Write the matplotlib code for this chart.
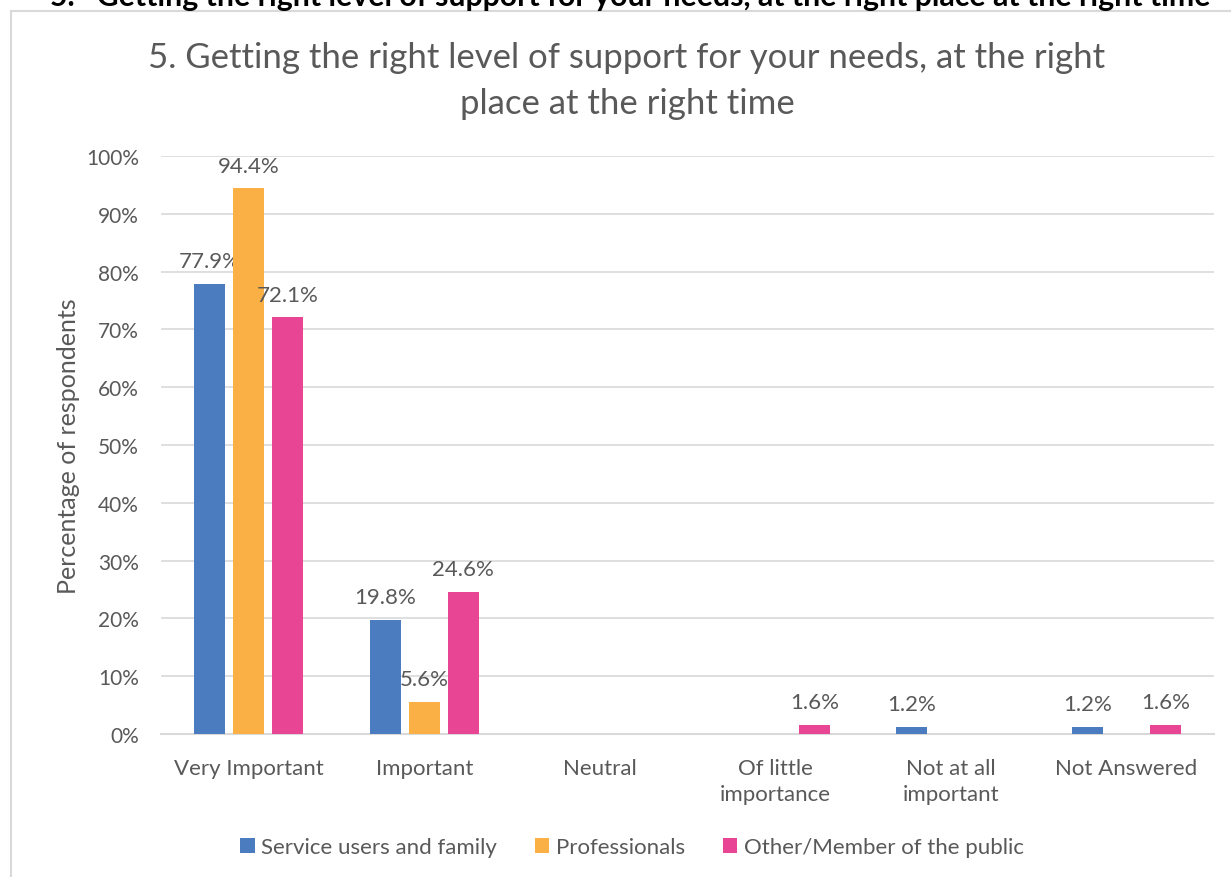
import numpy as np
import matplotlib.pyplot as plt
from matplotlib.patches import Rectangle

plt.rcParams['font.family'] = ['Lato', 'DejaVu Sans']

categories = ['Very Important', 'Important', 'Neutral', 'Of little\nimportance',
              'Not at all\nimportant', 'Not Answered']
series_names = ['Service users and family', 'Professionals', 'Other/Member of the public']
service_users = [77.9, 19.8, 0.0, 0.0, 1.2, 1.2]
professionals = [94.4, 5.6, 0.0, 0.0, 0.0, 0.0]
other_public = [72.1, 24.6, 0.0, 1.6, 0.0, 1.6]
yticks = [0, 10, 20, 30, 40, 50, 60, 70, 80, 90, 100]

colors = ['#4a7cbf', '#fbb045', '#e84595']
grey = '#595959'

fig = plt.figure(figsize=(12.31, 8.78), dpi=100)
ax = fig.add_axes([161 / 1231, 1 - 735 / 878, (1214 - 161) / 1231, (735 - 157) / 878])

# chart frame and the heading above it
fig.patches.append(Rectangle((11 / 1231, -0.1), 1.2, 1 - 12 / 878 + 0.1, transform=fig.transFigure,
                             fill=False, edgecolor='#d9d9d9', linewidth=1.5))
fig.text(50 / 1231, 1 - 6 / 878, '5.   Getting the right level of support for your needs, at the right place at the right time',
         fontsize=21.8, fontweight='bold', color='black', va='baseline', ha='left')

x = np.arange(len(categories))
width = 0.177
step = 0.222
for i, (vals, name) in enumerate(zip([service_users, professionals, other_public], series_names)):
    pos = x + (i - 1) * step
    bars = ax.bar(pos, vals, width, color=colors[i], label=name, zorder=3)
    for p, v in zip(pos, vals):
        if v > 0:
            ax.text(p, v + 2.2, f'{v:.1f}%', ha='center', va='bottom', fontsize=16, color=grey)

ax.set_xlim(-0.5, len(categories) - 0.5)
ax.set_ylim(0, 100)
ax.set_yticks(yticks)
ax.set_yticklabels([f'{t}%' for t in yticks])
ax.set_xticks(x)
ax.set_xticklabels(categories, linespacing=1.4)
ax.tick_params(axis='both', length=0, labelcolor=grey)
ax.tick_params(axis='y', pad=16, labelsize=15)
ax.tick_params(axis='x', pad=17, labelsize=16)
ax.grid(axis='y', color='#d9d9d9', linewidth=1.2, zorder=0)
for s in ['top', 'right', 'left']:
    ax.spines[s].set_visible(False)
ax.spines['bottom'].set_color('#d9d9d9')
ax.spines['bottom'].set_linewidth(1.5)

ax.set_ylabel('Percentage of respondents', fontsize=18, color=grey, labelpad=4)
fig.text(627 / 1231, 1 - 81 / 878,
         '5. Getting the right level of support for your needs, at the right\nplace at the right time',
         fontsize=25, color=grey, ha='center', va='center', linespacing=1.5)

fig.legend(loc='center', bbox_to_anchor=(632 / 1231, 1 - 848 / 878), ncol=3, frameon=False,
           fontsize=16, labelcolor=grey, handlelength=0.65, handleheight=0.65, handletextpad=0.3,
           columnspacing=1.7)

fig.savefig('out.png', dpi=100)
